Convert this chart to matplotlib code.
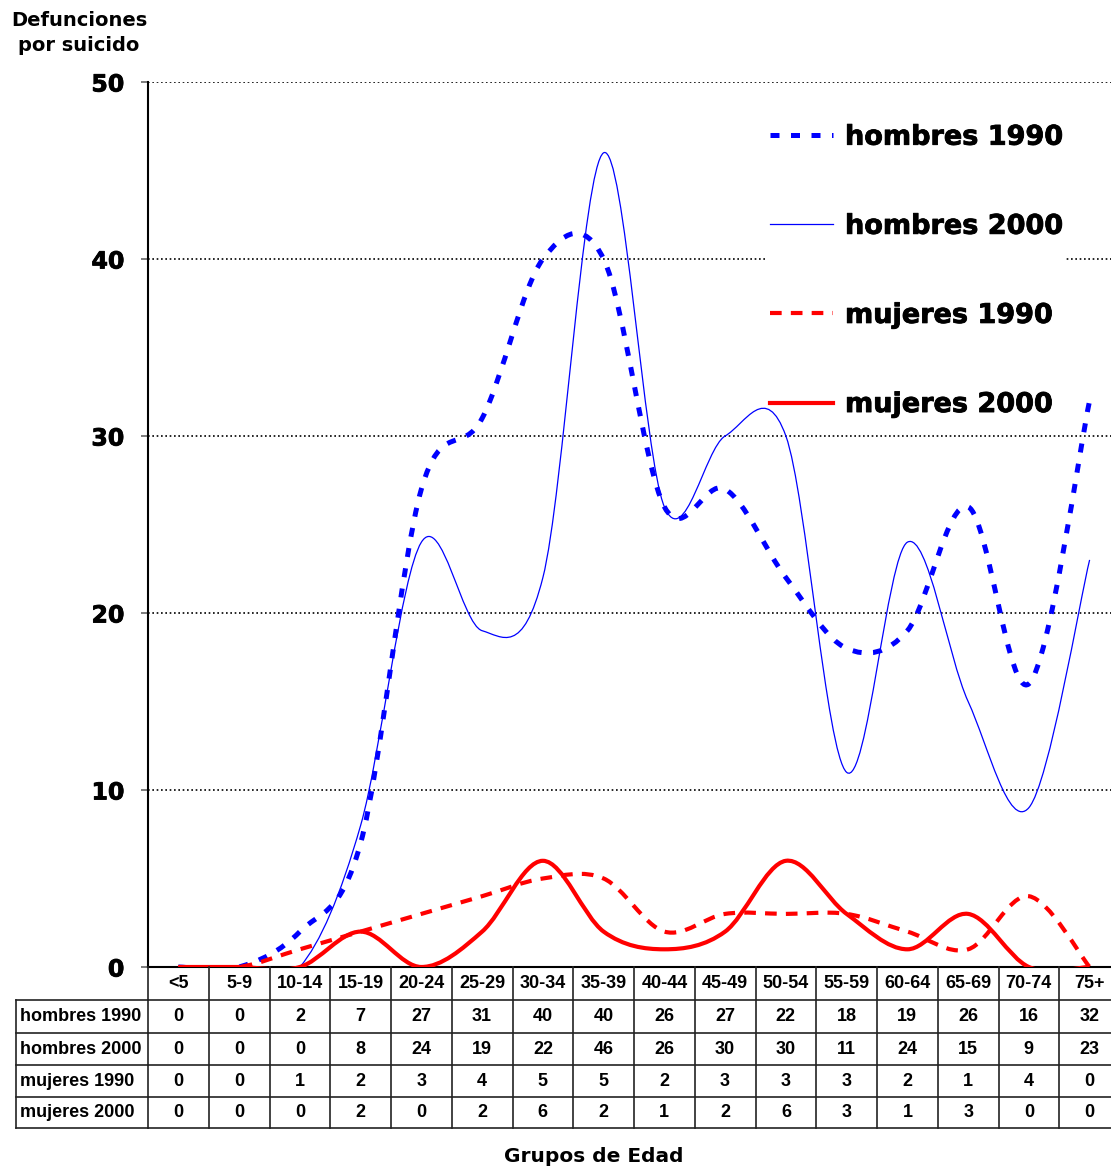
import numpy as np
import matplotlib
matplotlib.use("Agg")
import matplotlib.pyplot as plt
import matplotlib.transforms as mtransforms
import matplotlib.patheffects as pe
from matplotlib.path import Path
from matplotlib.patches import PathPatch
from matplotlib.lines import Line2D

grupos = ["<5", "5-9", "10-14", "15-19", "20-24", "25-29", "30-34", "35-39",
          "40-44", "45-49", "50-54", "55-59", "60-64", "65-69", "70-74", "75+"]
hombres_1990 = [0, 0, 2, 7, 27, 31, 40, 40, 26, 27, 22, 18, 19, 26, 16, 32]
hombres_2000 = [0, 0, 0, 8, 24, 19, 22, 46, 26, 30, 30, 11, 24, 15, 9, 23]
mujeres_1990 = [0, 0, 1, 2, 3, 4, 5, 5, 2, 3, 3, 3, 2, 1, 4, 0]
mujeres_2000 = [0, 0, 0, 2, 0, 2, 6, 2, 1, 2, 6, 3, 1, 3, 0, 0]
series_names = ["hombres 1990", "hombres 2000", "mujeres 1990", "mujeres 2000"]

W, H = 1111, 1170
fig = plt.figure(figsize=(W / 100, H / 100), dpi=100)

def fx(px):
    return px / W

def fy(py):
    return 1 - py / H

heavy = [pe.withStroke(linewidth=0.6, foreground="black")]

# plot area (extends a bit past the right edge like the original)
ax_l, ax_r, ax_t, ax_b = 148, 1120, 82, 967
ax = fig.add_axes([fx(ax_l), fy(ax_b), fx(ax_r - ax_l), (ax_b - ax_t) / H])
ax.set_xlim(-0.5, len(grupos) - 0.5)
ax.set_ylim(0, 50)
for s in ["top", "right"]:
    ax.spines[s].set_visible(False)
ax.spines["left"].set_linewidth(1.5)
ax.spines["bottom"].set_linewidth(1.5)
ax.set_xticks([])
ax.set_yticks([0, 10, 20, 30, 40, 50])
ax.tick_params(axis="y", length=5, width=1.2, color="#666666", pad=12, labelsize=17)
for lab in ax.get_yticklabels():
    lab.set_fontweight("bold")
    lab.set_path_effects(heavy)
for v in [10, 20, 30, 40, 50]:
    ax.axhline(v, color="black", lw=1.2, ls=(0, (1, 1.6)), zorder=1)


def smooth_path(vals):
    # excel-like smoothed line: cubic bezier through every point
    x = np.arange(len(vals), dtype=float)
    y = np.asarray(vals, dtype=float)
    pts = np.column_stack([x, y])
    n = len(pts)
    verts = [pts[0]]
    codes = [Path.MOVETO]
    for i in range(n - 1):
        p0 = pts[max(i - 1, 0)]
        p1 = pts[i]
        p2 = pts[i + 1]
        p3 = pts[min(i + 2, n - 1)]
        c1 = p1 + (p2 - p0) / 6.0
        c2 = p2 - (p3 - p1) / 6.0
        verts += [c1, c2, p2]
        codes += [Path.CURVE4] * 3
    return Path(verts, codes)


styles = [
    dict(color="#0000FF", lw=3.6, ls=(0, (1.8, 2.3))),
    dict(color="#0000FF", lw=0.9, ls="-"),
    dict(color="#FF0000", lw=3.0, ls=(0, (2.8, 2.2))),
    dict(color="#FF0000", lw=3.0, ls="-"),
]
all_series = [hombres_1990, hombres_2000, mujeres_1990, mujeres_2000]

handles = []
for vals, st, name in zip(all_series, styles, series_names):
    patch = PathPatch(smooth_path(vals), fill=False, edgecolor=st["color"],
                      lw=st["lw"], ls=st["ls"], capstyle="butt", joinstyle="round",
                      transform=ax.transData, zorder=3)
    ax.add_patch(patch)
    handles.append(Line2D([], [], color=st["color"], lw=st["lw"], ls=st["ls"],
                          dash_capstyle="butt", label=name))

leg = ax.legend(handles=handles, loc="upper left",
                bbox_to_anchor=(fx(767), fy(122)), bbox_transform=fig.transFigure,
                frameon=True, fancybox=False, framealpha=1, edgecolor="none",
                facecolor="white", borderpad=0.1, borderaxespad=0,
                handlelength=2.33, handletextpad=0.45, labelspacing=2.33,
                prop={"weight": "bold", "size": 19.5})
leg.set_zorder(2.5)
for t in leg.get_texts():
    t.set_path_effects(heavy)

# titles
fig.text(fx(79), fy(33), "Defunciones\npor suicido", ha="center", va="center",
         fontsize=14, fontweight="bold", linespacing=1.45)
fig.text(fx(594), fy(1157), "Grupos de Edad", ha="center", va="center",
         fontsize=14.5, fontweight="bold")

# data table under the chart
tr = mtransforms.blended_transform_factory(ax.transData, fig.transFigure)
rows_y = [967, 1000, 1033, 1065, 1097, 1128]
tcol = "#222222"
tfont = dict(family="Liberation Sans", fontweight="bold", fontsize=13)
x_first = -0.5
x_last = len(grupos) - 0.5
tbl_left = 16

for py in rows_y[1:]:
    fig.add_artist(Line2D([fx(tbl_left), fx(ax_l)], [fy(py), fy(py)],
                          color=tcol, lw=1.2, transform=fig.transFigure))
    fig.add_artist(Line2D([x_first, x_last], [fy(py), fy(py)], color=tcol, lw=1.2,
                          transform=tr, clip_on=False))
fig.add_artist(Line2D([fx(tbl_left), fx(tbl_left)], [fy(rows_y[1]), fy(rows_y[-1])],
                      color=tcol, lw=1.2, transform=fig.transFigure))
for i in range(len(grupos) + 1):
    fig.add_artist(Line2D([i - 0.5, i - 0.5], [fy(rows_y[0]), fy(rows_y[-1])],
                          color=tcol, lw=1.2, transform=tr, clip_on=False))

for i, g in enumerate(grupos):
    fig.text(i, fy((rows_y[0] + rows_y[1]) / 2), g, transform=tr,
             ha="center", va="center", **tfont)

for r, (name, vals) in enumerate(zip(series_names, all_series)):
    yc = fy((rows_y[r + 1] + rows_y[r + 2]) / 2)
    fig.text(fx(20), yc, name, ha="left", va="center", **tfont)
    for i, v in enumerate(vals):
        fig.text(i, yc, str(v), transform=tr, ha="center", va="center", **tfont)

fig.savefig("out.png", dpi=100)
